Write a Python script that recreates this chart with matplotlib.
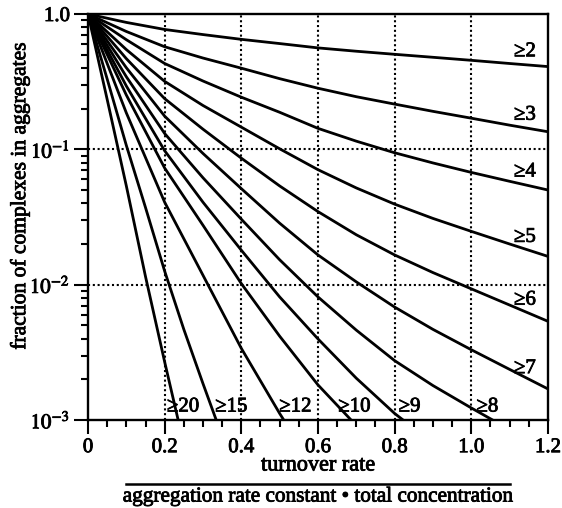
import matplotlib
matplotlib.use("Agg")
import matplotlib.pyplot as plt
import matplotlib.patheffects as pe
from matplotlib.lines import Line2D
from matplotlib.ticker import FixedLocator, MultipleLocator, LogLocator, NullFormatter

plt.rcParams['font.family'] = ['Liberation Serif', 'DejaVu Serif']
plt.rcParams['mathtext.fontset'] = 'stix'

# fraction of complexes in aggregates of size >= n
x_main = [0.0, 0.1, 0.2, 0.3, 0.4, 0.5, 0.6, 0.7, 0.8, 0.9, 1.0, 1.1, 1.2]
ge2 = [1.0, 0.867, 0.769, 0.705, 0.650, 0.605, 0.562, 0.531, 0.504, 0.479, 0.455, 0.431, 0.409]
ge3 = [1.0, 0.743, 0.573, 0.473, 0.398, 0.333, 0.283, 0.245, 0.216, 0.191, 0.170, 0.151, 0.135]
ge4 = [1.0, 0.646, 0.431, 0.320, 0.243, 0.188, 0.143, 0.115, 0.0944, 0.0794, 0.0676, 0.0581, 0.0501]
ge5 = [1.0, 0.546, 0.318, 0.211, 0.146, 0.101, 0.0708, 0.0519, 0.0394, 0.0309, 0.0248, 0.0200, 0.0162]
ge6 = [1.0, 0.468, 0.237, 0.141, 0.0861, 0.0537, 0.0347, 0.0234, 0.0166, 0.0123, 0.00933, 0.00708, 0.00537]
ge7 = [1.0, 0.401, 0.176, 0.0933, 0.0513, 0.0285, 0.0166, 0.0105, 0.00684, 0.00468, 0.00331, 0.00237, 0.0017]

x_ge8 = [0.0, 0.1, 0.2, 0.3, 0.4, 0.5, 0.6, 0.7, 0.8, 0.9, 1.0, 1.1]
ge8 = [1.0, 0.344, 0.131, 0.0617, 0.0305, 0.0153, 0.00813, 0.00462, 0.00275, 0.0018, 0.00123, 0.000851]

x_ge9 = [0.0, 0.1, 0.2, 0.3, 0.4, 0.5, 0.6, 0.7, 0.8, 0.9]
ge9 = [1.0, 0.294, 0.0977, 0.0407, 0.0180, 0.00813, 0.00398, 0.00204, 0.00112, 0.000676]

x_ge10 = [0.0, 0.1, 0.2, 0.3, 0.4, 0.5, 0.6, 0.7]
ge10 = [1.0, 0.252, 0.0728, 0.0275, 0.0102, 0.00417, 0.00182, 0.000912]

x_ge12 = [0.0, 0.1, 0.2, 0.3, 0.4, 0.5, 0.6]
ge12 = [1.0, 0.186, 0.0407, 0.01175, 0.00339, 0.00112, 0.000398]

x_ge15 = [0.0, 0.05, 0.1, 0.15, 0.2, 0.25, 0.3, 0.35]
ge15 = [1.0, 0.331, 0.107, 0.0372, 0.0126, 0.00468, 0.00186, 0.000759]

x_ge20 = [0.0, 0.05, 0.1, 0.15, 0.2, 0.25]
ge20 = [1.0, 0.234, 0.0537, 0.0115, 0.00269, 0.000661]

curves = [(x_main, ge2), (x_main, ge3), (x_main, ge4), (x_main, ge5),
          (x_main, ge6), (x_main, ge7), (x_ge8, ge8), (x_ge9, ge9),
          (x_ge10, ge10), (x_ge12, ge12), (x_ge15, ge15), (x_ge20, ge20)]

# curve labels: right side ones and bottom ones
right_labels = ["≥2", "≥3", "≥4", "≥5", "≥6", "≥7"]
right_label_y = [0.526, 0.179, 0.068, 0.0224, 0.0077, 0.0024]
bottom_labels = ["≥20", "≥15", "≥12", "≥10", "≥9", "≥8"]
bottom_label_x = [0.248, 0.374, 0.541, 0.695, 0.839, 1.042]

x_ticks = [0, 0.2, 0.4, 0.6, 0.8, 1.0, 1.2]
x_tick_labels = ["0", "0.2", "0.4", "0.6", "0.8", "1.0", "1.2"]
y_ticks = [1e-3, 1e-2, 1e-1, 1.0]
y_tick_labels = [r"$10^{-3}$", r"$10^{-2}$", r"$10^{-1}$", "1.0"]

# slight stroke so the serif text looks as heavy as the scanned original
ink = [pe.withStroke(linewidth=0.6, foreground="black")]

fig = plt.figure(figsize=(5.62, 5.08), dpi=100)
ax = fig.add_axes([0.1566, 0.173, 0.8184, 0.7994])

for gx in [0.2, 0.4, 0.6, 0.8, 1.0]:
    ax.axvline(gx, color="black", lw=1.5, ls=(0, (1, 1.3)), zorder=1)
for gy in [0.1, 0.01]:
    ax.axhline(gy, color="black", lw=1.5, ls=(0, (1, 1.3)), zorder=1)

for xs, ys in curves:
    ax.plot(xs, ys, color="black", lw=2.0, zorder=3)

ax.set_yscale("log")
ax.set_xlim(0, 1.2)
ax.set_ylim(1e-3, 1.0)

for lab, yy in zip(right_labels, right_label_y):
    ax.text(1.14, yy, lab, fontsize=15, ha="center", va="center", zorder=4, path_effects=ink)
for lab, xx in zip(bottom_labels, bottom_label_x):
    ax.text(xx, 1.25e-3, lab, fontsize=15, ha="center", va="center", zorder=4, path_effects=ink)

ax.xaxis.set_major_locator(FixedLocator(x_ticks))
ax.set_xticklabels(x_tick_labels)
ax.xaxis.set_minor_locator(MultipleLocator(0.05))
ax.yaxis.set_major_locator(FixedLocator(y_ticks))
ax.set_yticklabels(y_tick_labels)
ax.yaxis.set_minor_locator(LogLocator(base=10, subs=range(2, 10)))
ax.yaxis.set_minor_formatter(NullFormatter())

ax.tick_params(which="both", direction="out", top=False, right=False, width=1.5, labelsize=15, pad=3)
ax.tick_params(which="major", length=10)
ax.tick_params(which="minor", length=5)
for lbl in ax.get_xticklabels() + ax.get_yticklabels():
    lbl.set_path_effects(ink)
for sp in ax.spines.values():
    sp.set_linewidth(1.7)

fig.text(0.036, 0.614, "fraction of complexes in aggregates", fontsize=15.5,
         rotation=90, ha="center", va="center", path_effects=ink)

# fraction-style x label
fig.text(0.566, 0.0827, "turnover rate", fontsize=16, ha="center", va="center", path_effects=ink)
fig.add_artist(Line2D([0.2248, 0.9068], [0.047, 0.047], transform=fig.transFigure,
                      color="black", lw=1.8))
fig.text(0.566, 0.0216, "aggregation rate constant \u2022 total concentration",
         fontsize=15.3, ha="center", va="center", path_effects=ink)

fig.savefig("out.png", dpi=100)
